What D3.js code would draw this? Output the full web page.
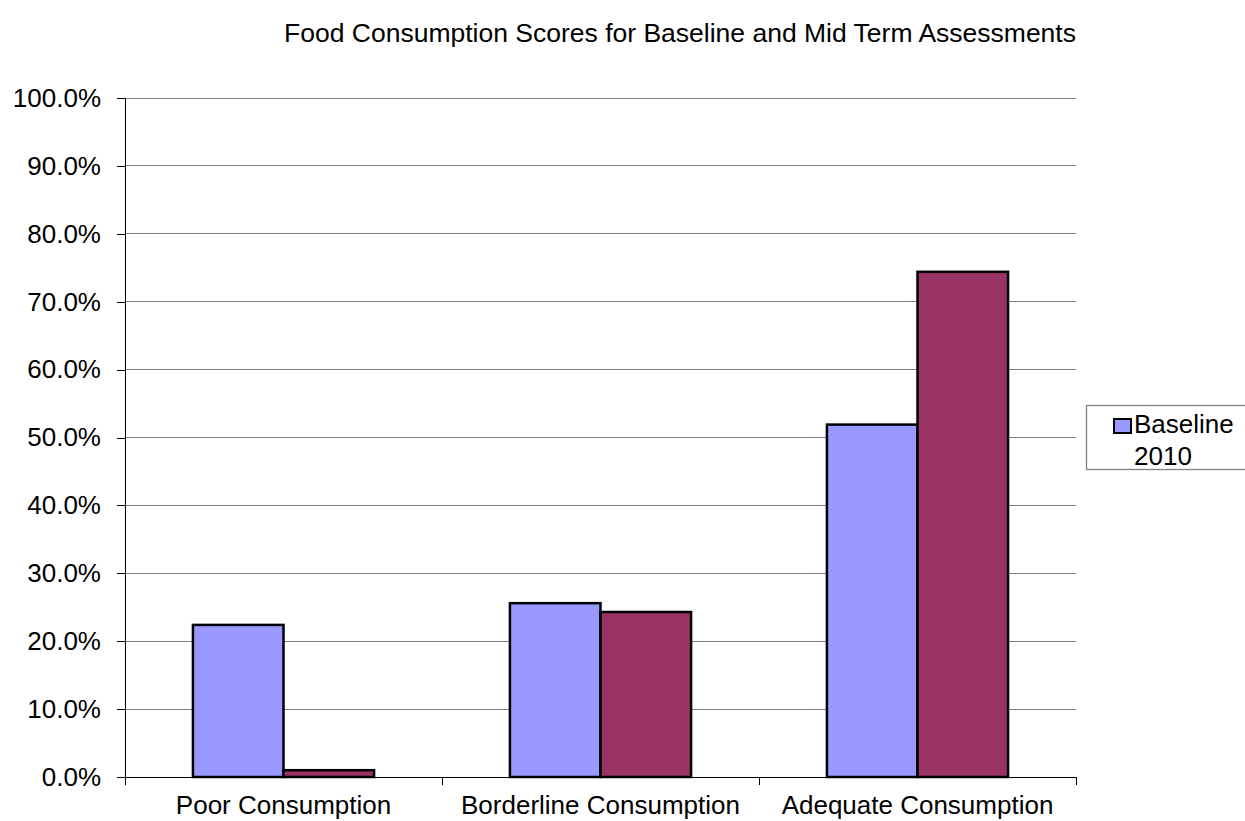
<!DOCTYPE html>
<html>
<head>
<meta charset="utf-8">
<script src="https://cdn.jsdelivr.net/npm/d3@7"></script>
<style>
  html, body { margin: 0; padding: 0; background: #fff; }
  svg { display: block; font-family: Arial, "Liberation Sans", sans-serif; }
</style>
</head>
<body>
<svg id="chart" width="1245" height="821"></svg>
<script>
// Food consumption score groups and the share of households in each
const categories = ["Poor Consumption", "Borderline Consumption", "Adequate Consumption"];
const seriesNames = ["Baseline 2010", "Mid Term"];
const baseline = [22.4, 25.6, 51.9];
const midTerm = [1.0, 24.3, 74.4];
const tickValues = [0, 10, 20, 30, 40, 50, 60, 70, 80, 90, 100];
const seriesColors = ["#9999FF", "#993366"];

(function draw() {
  const svg = d3.select("#chart");
  const plotLeft = 125, plotRight = 1076, plotTop = 98, plotBottom = 777;
  const fontFamily = "Arial, 'Liberation Sans', sans-serif";
  const labelSize = 26;

  const x = d3.scaleBand().domain(categories).range([plotLeft, plotRight]).paddingInner(0).paddingOuter(0);
  const y = d3.scaleLinear().domain([0, 100]).range([plotBottom, plotTop]);

  // Horizontal gridlines
  svg.append("g")
    .selectAll("line")
    .data(tickValues.filter(d => d > 0))
    .join("line")
    .attr("x1", plotLeft).attr("x2", plotRight)
    .attr("y1", d => y(d)).attr("y2", d => y(d))
    .attr("stroke", "#7f7f7f").attr("stroke-width", 1)
    .attr("shape-rendering", "crispEdges");

  // Value axis
  const yAxis = d3.axisLeft(y).tickValues(tickValues)
    .tickFormat(d => d3.format(".1f")(d) + "%")
    .tickSize(8).tickPadding(16);
  const gy = svg.append("g").attr("transform", `translate(${plotLeft},0)`).call(yAxis);
  gy.select(".domain").attr("stroke", "#000").attr("shape-rendering", "crispEdges");
  gy.selectAll(".tick line").attr("stroke", "#000").attr("shape-rendering", "crispEdges");
  gy.selectAll(".tick text").attr("font-size", labelSize).attr("fill", "#000")
    .attr("font-family", fontFamily);

  // Bars: two per category, gap of 1.5 bar widths
  const groupWidth = x.bandwidth();
  const barW = groupWidth / (2 + 1.5);
  const xs = d3.scaleBand().domain([0, 1]).range([0, 2 * barW]);
  const data = categories.flatMap((c, i) => [
    { cat: c, s: 0, v: baseline[i] },
    { cat: c, s: 1, v: midTerm[i] }
  ]);
  svg.append("g")
    .selectAll("rect")
    .data(data)
    .join("rect")
    .attr("x", d => x(d.cat) + 0.75 * barW + xs(d.s))
    .attr("width", xs.bandwidth())
    .attr("y", d => y(d.v))
    .attr("height", d => y(0) - y(d.v))
    .attr("fill", d => seriesColors[d.s])
    .attr("stroke", "#000").attr("stroke-width", 2.5);

  // Category axis
  const xAxis = d3.axisBottom(x).tickSize(0).tickPadding(19);
  const gx = svg.append("g").attr("transform", `translate(0,${plotBottom})`).call(xAxis);
  gx.select(".domain").remove();
  gx.selectAll(".tick text").attr("font-size", labelSize).attr("fill", "#000")
    .attr("font-family", fontFamily);
  svg.append("line").attr("x1", plotLeft).attr("x2", plotRight).attr("y1", plotBottom).attr("y2", plotBottom)
    .attr("stroke", "#000").attr("shape-rendering", "crispEdges");
  svg.append("g")
    .selectAll("line")
    .data(d3.range(categories.length + 1))
    .join("line")
    .attr("x1", i => plotLeft + i * groupWidth).attr("x2", i => plotLeft + i * groupWidth)
    .attr("y1", plotBottom).attr("y2", plotBottom + 8)
    .attr("stroke", "#000").attr("shape-rendering", "crispEdges");

  // Title
  svg.append("text")
    .attr("x", 680).attr("y", 42)
    .attr("text-anchor", "middle")
    .attr("font-size", 26.5)
    .text("Food Consumption Scores for Baseline and Mid Term Assessments");

  // Legend (only the first entry fits in the box)
  const lg = svg.append("g");
  lg.append("rect").attr("x", 1086.5).attr("y", 405.5).attr("width", 170).attr("height", 64)
    .attr("fill", "#fff").attr("stroke", "#808080").attr("stroke-width", 1.3);
  lg.append("rect").attr("x", 1114).attr("y", 419).attr("width", 17).attr("height", 14)
    .attr("fill", seriesColors[0]).attr("stroke", "#000").attr("stroke-width", 2);
  const words = seriesNames[0].split(" ");
  lg.append("text").attr("x", 1134).attr("y", 433).attr("font-size", labelSize).text(words[0]);
  lg.append("text").attr("x", 1134).attr("y", 465).attr("font-size", labelSize).text(words[1]);
})();
</script>
</body>
</html>
